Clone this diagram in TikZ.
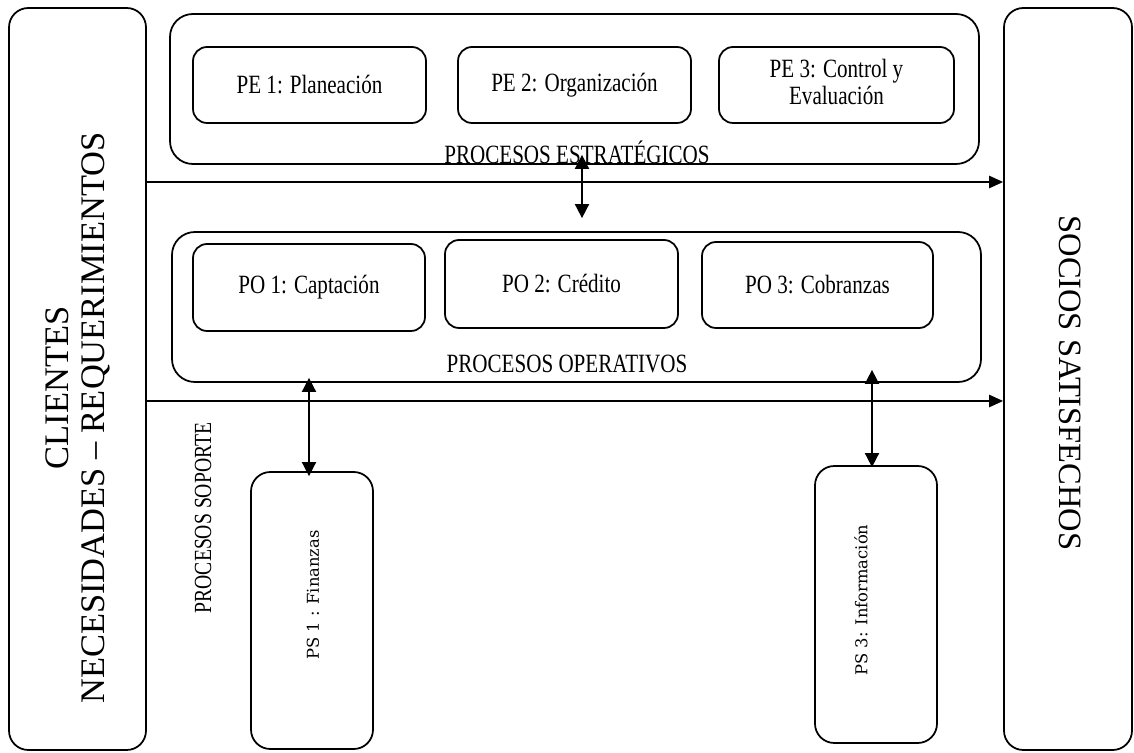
\documentclass[tikz,border=0pt]{standalone}
\usepackage{fontspec}
\setmainfont{Liberation Serif}
\newfontfamily\psfont{DejaVu Serif}
\usetikzlibrary{arrows.meta,calc}
\newdimen\unitpx
\unitpx=0.02cm
\newcommand{\cond}[1]{\scalebox{0.8}[1]{#1}}

\begin{document}
\begin{tikzpicture}[x=0.02cm,y=-0.02cm,
  box/.style={draw,line width=1pt,rounded corners=#1,inner sep=2pt,
    font=\fontsize{15}{17}\selectfont},
  box/.default=8pt,
  lbl/.style={font=\fontsize{15}{17}\selectfont,inner sep=0pt},
  side/.style={font=\fontsize{19.6}{22}\selectfont,inner sep=0pt},
  pslbl/.style={font=\psfont\fontsize{9.3}{11}\selectfont,inner sep=0pt},
  arr/.style={line width=1pt,-{Triangle[length=8pt,width=7pt]}},
  dbl/.style={line width=1pt,{Triangle[length=8pt,width=8pt]}-{Triangle[length=8pt,width=8pt]}}]
  \useasboundingbox (0,0) rectangle (1134,753);

  % side columns: what comes in, what goes out
  \node[box=11pt,minimum width=137\unitpx,minimum height=742\unitpx] (clients) at (77.5,379) {};
  \node[side] (clientstxt) at (57,388) {\rotatebox{90}{CLIENTES}};
  \node[side] (needstxt) at (96,418) {\rotatebox{90}{NECESIDADES – REQUERIMIENTOS}};
  \node[box=11pt,minimum width=128\unitpx,minimum height=742\unitpx] (partners) at (1068,379) {};
  \node[side,font=\fontsize{18.5}{22}\selectfont] (partnerstxt) at (1070,383) {\rotatebox{-90}{SOCIOS SATISFECHOS}};

  % strategic band
  \node[box=13pt,minimum width=809\unitpx,minimum height=150\unitpx] (strat) at (574.5,89) {};
  \node[box,minimum width=233\unitpx,minimum height=76\unitpx] (pe1) at (309.5,85) {\cond{PE 1: Planeación}};
  \node[box,minimum width=233\unitpx,minimum height=76\unitpx] (pe2) at (574.5,85) {\cond{PE 2: Organización}};
  \node[box,minimum width=235\unitpx,minimum height=76\unitpx] (pe3) at (836.5,85)
    {\cond{\begin{tabular}{@{}c@{}}PE 3: Control y\\[-2pt]Evaluación\end{tabular}}};
  \node[lbl] (stratlbl) at (577,152) {\cond{PROCESOS ESTRATÉGICOS}};

  % operational band
  \node[box=13pt,minimum width=809\unitpx,minimum height=150\unitpx] (ops) at (576.5,307) {};
  \node[box,minimum width=232\unitpx,minimum height=87\unitpx] (po1) at (309,287.5) {\cond{PO 1: Captación}};
  \node[box,minimum width=233\unitpx,minimum height=88\unitpx] (po2) at (561.5,284) {\cond{PO 2: Crédito}};
  \node[box,minimum width=231\unitpx,minimum height=86\unitpx] (po3) at (817.5,285) {\cond{PO 3: Cobranzas}};
  \node[lbl] (opslbl) at (567,364) {\cond{PROCESOS OPERATIVOS}};

  % support processes
  \node[lbl,font=\fontsize{14}{16}\selectfont] (supplbl) at (203,518) {\rotatebox{90}{\cond{PROCESOS SOPORTE}}};
  \node[box=11pt,minimum width=122\unitpx,minimum height=277\unitpx] (ps1) at (312,610.5) {};
  \node[pslbl] (ps1txt) at (313,595) {\rotatebox{90}{PS 1 : Finanzas}};
  \node[box=11pt,minimum width=122\unitpx,minimum height=277\unitpx] (ps3) at (876,604.5) {};
  \node[pslbl] (ps3txt) at (861,600) {\rotatebox{90}{PS 3: Información}};

  % flows
  \coordinate (flowtop) at (0,182);
  \coordinate (flowbot) at (0,401);
  \draw[arr] (clients.east |- flowtop) -- (partners.west |- flowtop);
  \draw[arr] (clients.east |- flowbot) -- (partners.west |- flowbot);
  \draw[dbl] ($(strat.south)+(7.5,-10)$) -- ($(ops.north)+(5.5,-13)$);
  \draw[dbl] ($(po1 |- ops.south)+(0,-5)$) -- ($(po1 |- ps1.north)+(0,5)$);
  \draw[dbl] ($(ps3 |- ops.south)+(-4,-13)$) -- ($(ps3.north)+(-4,2)$);
\end{tikzpicture}
\end{document}
